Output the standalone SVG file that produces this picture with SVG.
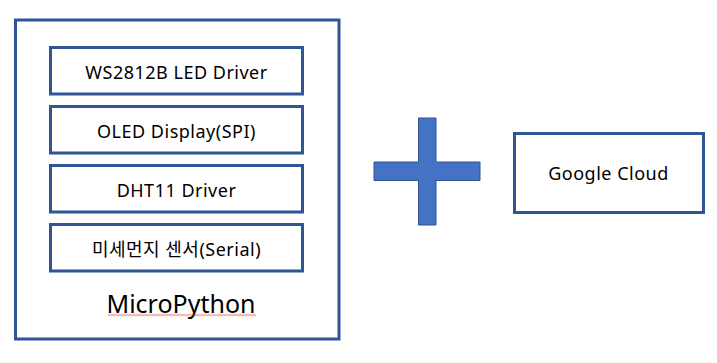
<svg xmlns="http://www.w3.org/2000/svg" width="717" height="363" viewBox="0 0 717 363">
<defs>
<pattern id="squig" x="108" y="313.5" width="3" height="3" patternUnits="userSpaceOnUse">
<path d="M0 2.5 L1.5 0.8 L3 2.5" fill="none" stroke="#E02020" stroke-width="0.8"/>
</pattern>
</defs>
<style>
.box{fill:#fff;stroke:#2F5597;stroke-width:3}
.t{font-family:"Noto Sans","Noto Sans CJK KR",sans-serif;font-size:18px;letter-spacing:0.5px;fill:#000;text-anchor:middle}
.big{font-size:25px;letter-spacing:0}
.plus{fill:#4472C4;stroke:#2F528F;stroke-width:1}
</style>
<rect width="717" height="363" fill="#fff"/>
<g id="micropython">
<rect class="box" x="15.5" y="20" width="323.5" height="319"/>
<text class="t big" x="181" y="313">MicroPython</text>
<rect x="108" y="313.5" width="148" height="3" fill="url(#squig)"/>
</g>
<g id="ws2812b">
<rect class="box" x="50.5" y="47.5" width="252" height="46.5"/>
<text class="t" x="176.5" y="79">WS2812B LED Driver</text>
</g>
<g id="oled">
<rect class="box" x="50.5" y="106.5" width="252" height="46.5"/>
<text class="t" x="176.5" y="137.5">OLED Display(SPI)</text>
</g>
<g id="dht11">
<rect class="box" x="50.5" y="165.5" width="252" height="46.5"/>
<text class="t" x="176.5" y="196.5">DHT11 Driver</text>
</g>
<g id="dust">
<rect class="box" x="50.5" y="224.5" width="252" height="46.5"/>
<text class="t" x="176.5" y="256">미세먼지 센서(Serial)</text>
</g>
<g id="plus">
<path class="plus" d="M418.5 118 H436 V162 H480 V180.5 H436 V225 H418.5 V180.5 H374 V162 H418.5 Z"/>
</g>
<g id="google-cloud">
<rect class="box" x="514.5" y="133.5" width="189" height="79"/>
<text class="t" x="608.5" y="180">Google Cloud</text>
</g>
<g id="connectors"></g>
</svg>
